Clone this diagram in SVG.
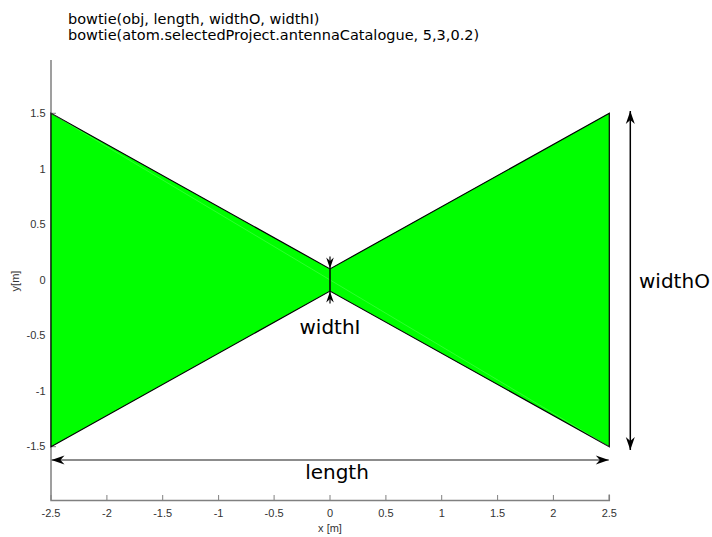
<svg xmlns="http://www.w3.org/2000/svg" width="712" height="537" viewBox="0 0 712 537">
<style>
.title{font-family:"DejaVu Sans",Verdana,sans-serif;font-size:14.5px;fill:#000}
.dim{font-family:"DejaVu Sans",Verdana,sans-serif;font-size:20px;fill:#000}
.tick{font-family:"Liberation Sans",Arial,sans-serif;font-size:11px;fill:#333}
.axis{stroke:#808080;stroke-width:1.5;fill:none}
.tk{stroke:#808080;stroke-width:1;fill:none}
</style>
<defs>
<marker id="ah" viewBox="-14 -5 15 10" refX="0" refY="0" markerWidth="15" markerHeight="10" markerUnits="userSpaceOnUse" orient="auto-start-reverse">
<path d="M0,0 L-13,-4.5 L-9,0 L-13,4.5 Z" fill="#000"/>
</marker>
<marker id="ahs" viewBox="-12 -4 13 8" refX="0" refY="0" markerWidth="13" markerHeight="8" markerUnits="userSpaceOnUse" orient="auto-start-reverse">
<path d="M0,0 L-11,-3.8 L-7.5,0 L-11,3.8 Z" fill="#000"/>
</marker>
</defs>
<rect width="712" height="537" fill="#fff"/>
<g id="title">
<text class="title" x="68" y="24">bowtie(obj, length, widthO, widthI)</text>
<text class="title" x="68" y="40">bowtie(atom.selectedProject.antennaCatalogue, 5,3,0.2)</text>
</g>
<g id="axes">
<path class="tk" d="M51,113.3h5M51,168.9h5M51,224.4h5M51,280h5M51,335.6h5M51,391.1h5M51,446.7h5"/>
<path class="tk" d="M51,500v-5M106.9,500v-5M162.7,500v-5M218.6,500v-5M274.1,500v-5M330,500v-5M385.9,500v-5M441.7,500v-5M497.6,500v-5M553.4,500v-5M609.3,500v-5"/>
<path class="axis" d="M51,60V500.5H609.3v-6"/>
<g class="tick" text-anchor="end">
<text x="45.5" y="117">1.5</text>
<text x="45.5" y="172.6">1</text>
<text x="45.5" y="228.1">0.5</text>
<text x="45.5" y="283.7">0</text>
<text x="45.5" y="339.3">-0.5</text>
<text x="45.5" y="394.8">-1</text>
<text x="45.5" y="450.4">-1.5</text>
</g>
<g class="tick" text-anchor="middle">
<text x="51" y="517">-2.5</text>
<text x="106.9" y="517">-2</text>
<text x="162.7" y="517">-1.5</text>
<text x="218.6" y="517">-1</text>
<text x="274.1" y="517">-0.5</text>
<text x="330" y="517">0</text>
<text x="385.9" y="517">0.5</text>
<text x="441.7" y="517">1</text>
<text x="497.6" y="517">1.5</text>
<text x="553.4" y="517">2</text>
<text x="609.3" y="517">2.5</text>
<text x="330" y="532">x [m]</text>
<text x="0" y="0" transform="translate(19,281) rotate(-90)">y[m]</text>
</g>
</g>
<g id="bowtie">
<polygon points="51,113.3 330,268.9 609.3,113.3 609.3,446.7 330,291.1 51,446.7" fill="#00ff00" stroke="#000" stroke-width="1.2" stroke-linejoin="miter"/>
<line x1="51" y1="113.3" x2="609.3" y2="446.7" stroke="#ffffff" stroke-opacity="0.35" stroke-width="0.5"/>
</g>
<g id="connectors">
<line x1="51.5" y1="460" x2="608.8" y2="460" stroke="#666" stroke-width="1.5" marker-start="url(#ah)" marker-end="url(#ah)"/>
<line x1="630.3" y1="111" x2="630.3" y2="450" stroke="#000" stroke-width="1.5" marker-start="url(#ah)" marker-end="url(#ah)"/>
<line x1="330" y1="256.5" x2="330" y2="268.5" stroke="#000" stroke-width="1.2" marker-end="url(#ahs)"/>
<line x1="330" y1="268.9" x2="330" y2="291.1" stroke="#000" stroke-width="1.5"/>
<line x1="330" y1="303.5" x2="330" y2="291.5" stroke="#000" stroke-width="1.2" marker-end="url(#ahs)"/>
</g>
<g id="labels">
<text class="dim" x="330" y="334" text-anchor="middle">widthI</text>
<text class="dim" x="639" y="288">widthO</text>
<text class="dim" x="337" y="479" text-anchor="middle">length</text>
</g>
</svg>
